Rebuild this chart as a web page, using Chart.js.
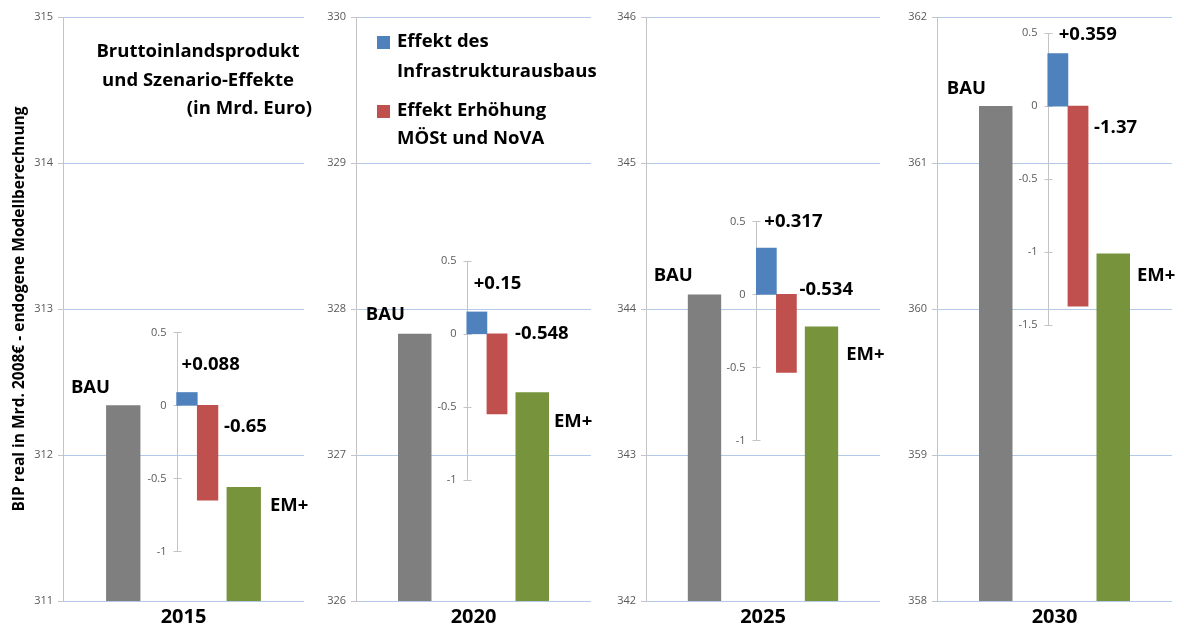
<!DOCTYPE html>
<html>
<head>
<meta charset="utf-8">
<script src="https://cdn.jsdelivr.net/npm/chart.js@4.4.0/dist/chart.umd.min.js"></script>
<style>
  html, body { margin: 0; padding: 0; background: #fff; }
  #wrap { position: relative; width: 1184px; height: 631px; overflow: hidden; }
  #wrap canvas { position: absolute; top: 0; }
</style>
</head>
<body>
<div id="wrap">
  <canvas id="p0"></canvas>
  <canvas id="p1"></canvas>
  <canvas id="p2"></canvas>
  <canvas id="p3"></canvas>
</div>
<script>
// ---- data (Mrd. Euro) ----
const years        = ['2015', '2020', '2025', '2030'];
const scenarios    = ['BAU', 'EM+'];
const bauValues    = [312.34, 327.83, 344.10, 361.39];
const emPlusValues = [311.78, 327.43, 343.88, 360.38];
const infraEffect  = [0.088, 0.15, 0.317, 0.359];
const taxEffect    = [-0.65, -0.548, -0.534, -1.37];
const axisMin      = [311, 326, 342, 358];
const axisMax      = [315, 330, 346, 362];
const insetTicks   = [
  [0.5, 0, -0.5, -1],
  [0.5, 0, -0.5, -1],
  [0.5, 0, -0.5, -1],
  [0.5, 0, -0.5, -1, -1.5],
];
const seriesNames  = [['Effekt des', 'Infrastrukturausbaus'], ['Effekt Erhöhung', 'MÖSt und NoVA']];
const titleLines   = ['Bruttoinlandsprodukt', 'und Szenario-Effekte', '(in Mrd. Euro)'];
const yTitle       = 'BIP real in Mrd. 2008€ - endogene Modellberechnung';

// ---- look ----
const FONT   = "'Open Sans', sans-serif";
const GRAY   = '#7F7F7F';
const GREEN  = '#77933C';
const BLUE   = '#4F81BD';
const RED    = '#C0504D';
const GRID   = '#B4C9E8';
const AXIS   = '#C4C4C4';
const TICK_C = '#595959';
const LABEL_FONT = 'bold 18.5px ' + FONT;

Chart.defaults.font.family = FONT;

// inset bars sit on a hidden fine slot axis (36 slots across the panel);
// the two bars are 3 slots apart, which is also their width
const SLOTS = Array.from({ length: 36 }, (_, k) => String(k));
const BLUE_SLOT = '18';
const RED_SLOT  = '21';
const INSET_AXIS_AT = 16.5;     // left edge of the blue bar

// canvas placement of each panel
const panels = [
  { left: 0,   width: 318, axisW: 63, padRight: 14 },
  { left: 318, width: 288, axisW: 38, padRight: 15 },
  { left: 606, width: 290, axisW: 40, padRight: 16 },
  { left: 896, width: 288, axisW: 41, padRight: 12 },
];

// hand placed value labels (dx, dy) like in the original
const nudges = [
  { bau: [4, -18], em: [9, 19],  infra: [5, -28],  tax: [6, 21] },
  { bau: [7, -19], em: [5, 30],  infra: [7, -28],  tax: [8, 0] },
  { bau: [5, -19], em: [8, 28],  infra: [8, -26],  tax: [3, -5] },
  { bau: [7, -17], em: [7, 22],  infra: [11, -19], tax: [6, 22] },
];

const fmtEffect = v => (v > 0 ? '+' : '') + v;

function insetPlugin(i) {
  return {
    id: 'inset' + i,
    beforeDatasetsDraw(chart) {
      const { ctx } = chart;
      const y2 = chart.scales.y2;
      const ax = Math.round(chart.scales.x2.getPixelForValue(INSET_AXIS_AT)) + 0.5;
      const ticks = insetTicks[i];
      ctx.save();
      ctx.strokeStyle = AXIS;
      ctx.lineWidth = 1;
      ctx.beginPath();
      ctx.moveTo(ax, y2.getPixelForValue(Math.max(...ticks)));
      ctx.lineTo(ax, y2.getPixelForValue(Math.min(...ticks)));
      y2.ticks.forEach(t => {
        const py = Math.round(y2.getPixelForValue(t.value)) + 0.5;
        ctx.moveTo(ax - 4, py);
        ctx.lineTo(ax + 4, py);
      });
      ctx.stroke();
      ctx.fillStyle = TICK_C;
      ctx.font = '11px ' + FONT;
      ctx.textAlign = 'right';
      ctx.textBaseline = 'middle';
      y2.ticks.forEach(t => {
        ctx.fillText(String(t.value), ax - 11, y2.getPixelForValue(t.value));
      });
      ctx.restore();
    },
    afterDatasetsDraw(chart) {
      const { ctx, chartArea } = chart;
      const n = nudges[i];
      const [bauBar, emBar] = chart.getDatasetMeta(0).data;
      const infraBar = chart.getDatasetMeta(1).data[0];
      const taxBar = chart.getDatasetMeta(2).data[0];
      ctx.save();
      ctx.font = LABEL_FONT;
      ctx.fillStyle = '#000';
      ctx.textBaseline = 'middle';
      ctx.textAlign = 'right';
      ctx.fillText(scenarios[0], bauBar.x - bauBar.width / 2 + n.bau[0], bauBar.y + n.bau[1]);
      ctx.textAlign = 'left';
      ctx.fillText(scenarios[1], emBar.x + emBar.width / 2 + n.em[0], emBar.y + n.em[1]);
      ctx.fillText(fmtEffect(infraEffect[i]), infraBar.x - infraBar.width / 2 + n.infra[0], infraBar.y + n.infra[1]);
      ctx.fillText(fmtEffect(taxEffect[i]), taxBar.x + taxBar.width / 2 + n.tax[0], taxBar.base + n.tax[1]);

      if (i === 0) {
        // chart title block
        ctx.textAlign = 'center';
        ctx.fillText(titleLines[0], chartArea.left + 135, 52);
        ctx.fillText(titleLines[1], chartArea.left + 135, 81);
        ctx.textAlign = 'right';
        ctx.fillText(titleLines[2], chartArea.right + 8, 109);
      }
      if (i === 1) {
        // legend
        const colors = [BLUE, RED];
        const rows = [[42, 72], [111, 139]];
        seriesNames.forEach((lines, k) => {
          ctx.fillStyle = colors[k];
          ctx.fillRect(chartArea.left + 21, rows[k][0] - 6, 13, 13);
          ctx.fillStyle = '#000';
          ctx.textAlign = 'left';
          lines.forEach((ln, j) => ctx.fillText(ln, chartArea.left + 41, rows[k][j]));
        });
      }
      ctx.restore();
    }
  };
}

function buildPanel(i) {
  const p = panels[i];
  const canvas = document.getElementById('p' + i);
  canvas.width = p.width;
  canvas.height = 631;
  canvas.style.left = p.left + 'px';
  const bau = bauValues[i];

  new Chart(canvas, {
    type: 'bar',
    data: {
      labels: scenarios,
      datasets: [
        {
          label: 'Szenario',
          data: [bauValues[i], emPlusValues[i]],
          backgroundColor: [GRAY, GREEN],
          xAxisID: 'x', yAxisID: 'y',
          grouped: false,
          categoryPercentage: 1, barPercentage: 0.285
        },
        {
          label: seriesNames[0].join(' '),
          data: [{ x: BLUE_SLOT, y: infraEffect[i] }],
          backgroundColor: BLUE,
          xAxisID: 'x2', yAxisID: 'y2',
          grouped: false,
          categoryPercentage: 1, barPercentage: 1
        },
        {
          label: seriesNames[1].join(' '),
          data: [{ x: RED_SLOT, y: taxEffect[i] }],
          backgroundColor: RED,
          xAxisID: 'x2', yAxisID: 'y2',
          grouped: false,
          categoryPercentage: 1, barPercentage: 1
        }
      ]
    },
    options: {
      responsive: false,
      animation: false,
      layout: { padding: { top: 17, right: p.padRight, bottom: 0, left: 0 } },
      plugins: { legend: { display: false }, tooltip: { enabled: false } },
      scales: {
        x: {
          type: 'category',
          offset: true,
          grid: { display: false },
          border: { display: false },
          ticks: { display: false },
          title: { display: true, text: years[i], color: '#000', font: { size: 20, weight: 'bold' }, padding: { top: 0, bottom: 2 } },
          afterFit: s => { s.height = 30; }
        },
        x2: {
          type: 'category',
          labels: SLOTS,
          offset: false,
          display: false
        },
        y: {
          type: 'linear',
          position: 'left',
          min: axisMin[i],
          max: axisMax[i],
          ticks: { stepSize: 1, color: TICK_C, font: { size: 11 }, padding: 5 },
          grid: { color: GRID, tickColor: AXIS, tickLength: 5 },
          border: { color: AXIS },
          title: {
            display: i === 0,
            text: yTitle,
            color: '#000',
            font: { size: 15.5, weight: 'bold' },
            padding: { top: 10, bottom: 0 }
          },
          afterFit: s => { s.width = p.axisW; }
        },
        y2: {
          // inset effect axis: 0 sits on the BAU level, same unit size as y
          type: 'linear',
          display: true,
          position: { x2: INSET_AXIS_AT },
          min: axisMin[i] - bau,
          max: axisMax[i] - bau,
          grid: { display: false },
          border: { display: false },
          ticks: { display: false },
          afterBuildTicks: s => { s.ticks = insetTicks[i].map(v => ({ value: v })); }
        }
      }
    },
    plugins: [insetPlugin(i)]
  });
}

years.forEach((_, i) => buildPanel(i));
</script>
</body>
</html>
